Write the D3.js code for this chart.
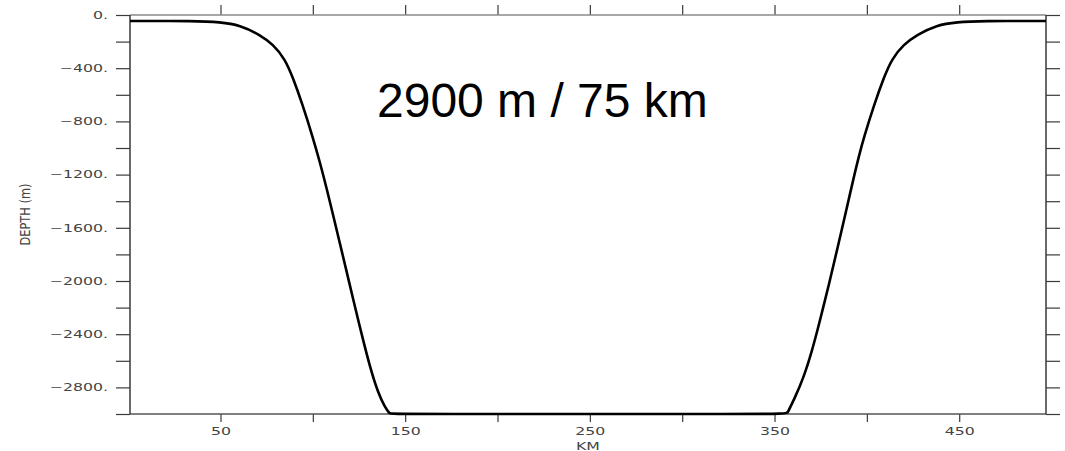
<!DOCTYPE html>
<html>
<head>
<meta charset="utf-8">
<script src="https://cdn.jsdelivr.net/npm/d3@7"></script>
<style>
  body { margin: 0; background: #fff; }
</style>
</head>
<body>
<svg id="chart" width="1065" height="451"></svg>
<script>
// bathymetry profile (km along section, depth in m)
const leftSlopeKm = [1, 36.2, 49.7, 60.6, 71.4, 78.4, 84.9, 89.2, 94.6, 100.0, 103.9, 107.7, 110.9, 114.7, 118.5, 121.7, 126.6, 131.0, 135.3, 139.1, 141.8, 141.8];
const leftSlopeDepth = [-45, -45, -53, -75, -150, -220, -330, -470, -680, -920, -1110, -1316, -1500, -1720, -1940, -2130, -2410, -2650, -2840, -2950, -3000, -3000];
const rightSlopeKm = [356.7, 356.7, 361.0, 365.9, 370.2, 374.0, 376.7, 379.4, 382.1, 384.8, 387.5, 390.2, 393.0, 395.7, 398.4, 403.8, 409.2, 413.5, 420.0, 427.0, 437.8, 448.7, 462.2, 497];
const rightSlopeDepth = [-3000, -3000, -2880, -2720, -2530, -2330, -2180, -2030, -1870, -1710, -1550, -1385, -1215, -1060, -920, -680, -470, -330, -220, -150, -75, -53, -45, -45];

const xTicks = [50, 100, 150, 200, 250, 300, 350, 400, 450];
const xLabelled = [50, 150, 250, 350, 450];
const yTicks = d3.range(0, -3001, -200);
const yLabelled = [0, -400, -800, -1200, -1600, -2000, -2400, -2800];
const annotation = "2900 m / 75 km";

const svg = d3.select("#chart");
const X0 = 130, X1 = 1046, Y0 = 15, Y1 = 414;

const x = d3.scaleLinear().domain([1, 497]).range([X0, X1]);
const y = d3.scaleLinear().domain([-3000, 0]).range([Y1, Y0]);

svg.append("rect").attr("width", 1065).attr("height", 451).attr("fill", "#fff");

const profile = [
  ...leftSlopeKm.map((k, i) => [k, leftSlopeDepth[i]]),
  ...rightSlopeKm.map((k, i) => [k, rightSlopeDepth[i]]),
];

const LABEL_SCALE = 1.5;
const fmtDepth = (d) => (d === 0 ? "0." : "\u2212" + Math.abs(d) + ".");

const styleAxis = (g) => {
  g.select(".domain").remove();
  g.selectAll(".tick line").attr("stroke", "#3a3a3a").attr("stroke-width", 1.2);
  g.selectAll("text")
    .attr("fill", "#444")
    .attr("font-family", "DejaVu Sans, sans-serif")
    .attr("font-size", 10.5);
};

// left axis with labels
const gLeft = svg.append("g").attr("transform", `translate(${X0},0)`)
  .call(d3.axisLeft(y).tickValues(yTicks).tickSize(14).tickSizeOuter(0).tickPadding(8)
    .tickFormat((d) => (yLabelled.includes(d) ? fmtDepth(d) : "")))
  .call(styleAxis);
gLeft.selectAll("text")
  .attr("x", -22 / LABEL_SCALE)
  .attr("transform", `scale(${LABEL_SCALE},1)`);

// right axis ticks
svg.append("g").attr("transform", `translate(${X1},0)`)
  .call(d3.axisRight(y).tickValues(yTicks).tickSize(14).tickSizeOuter(0).tickFormat(""))
  .call(styleAxis);

// top axis ticks
svg.append("g").attr("transform", `translate(0,${Y0})`)
  .call(d3.axisTop(x).tickValues(xTicks).tickSize(10).tickSizeOuter(0).tickFormat(""))
  .call(styleAxis);

// bottom axis with labels
const gBottom = svg.append("g").attr("transform", `translate(0,${Y1})`)
  .call(d3.axisBottom(x).tickValues(xTicks).tickSize(8).tickSizeOuter(0).tickPadding(6)
    .tickFormat((d) => (xLabelled.includes(d) ? String(d) : "")))
  .call(styleAxis);
gBottom.selectAll("text").attr("transform", `scale(${LABEL_SCALE},1)`);

// frame
svg.append("line").attr("x1", X0).attr("x2", X1).attr("y1", Y0).attr("y2", Y0)
  .attr("stroke", "#8a8a8a").attr("stroke-width", 1.3);
svg.append("line").attr("x1", X0).attr("x2", X1).attr("y1", Y1).attr("y2", Y1)
  .attr("stroke", "#555").attr("stroke-width", 1.3);
svg.append("line").attr("x1", X0).attr("x2", X0).attr("y1", Y0).attr("y2", Y1)
  .attr("stroke", "#3a3a3a").attr("stroke-width", 1.5);
svg.append("line").attr("x1", X1).attr("x2", X1).attr("y1", Y0).attr("y2", Y1)
  .attr("stroke", "#3a3a3a").attr("stroke-width", 1.5);

// axis titles
svg.append("text")
  .attr("transform", `translate(${(X0 + X1) / 2},450) scale(${LABEL_SCALE},1)`)
  .attr("text-anchor", "middle")
  .attr("font-family", "DejaVu Sans, sans-serif")
  .attr("font-size", 10.5)
  .attr("fill", "#444")
  .text("KM");

svg.append("text")
  .attr("transform", `translate(29.5,${(Y0 + Y1) / 2}) rotate(-90)`)
  .attr("text-anchor", "middle")
  .attr("font-family", "DejaVu Sans, sans-serif")
  .attr("font-size", 14)
  .attr("fill", "#444")
  .attr("textLength", 62)
  .attr("lengthAdjust", "spacingAndGlyphs")
  .text("DEPTH (m)");

// profile line
const line = d3.line()
  .x((d) => x(d[0]))
  .y((d) => y(d[1]))
  .curve(d3.curveBasis);

svg.append("path")
  .datum(profile)
  .attr("d", line)
  .attr("fill", "none")
  .attr("stroke", "#000")
  .attr("stroke-width", 2.6)
  .attr("stroke-linejoin", "round");

// annotation
svg.append("text")
  .attr("x", 377)
  .attr("y", 117)
  .attr("font-family", "Liberation Sans, Arial, sans-serif")
  .attr("font-size", 48)
  .attr("fill", "#000")
  .text(annotation);
</script>
</body>
</html>
